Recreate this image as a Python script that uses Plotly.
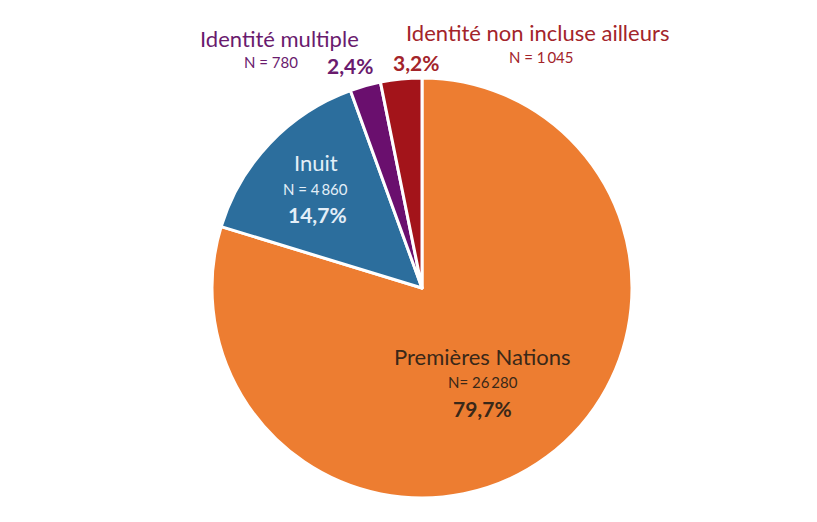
import plotly.graph_objects as go

# Population by Indigenous identity
categories = ["Premières Nations", "Inuit", "Identité multiple", "Identité non incluse ailleurs"]
counts = [26280, 4860, 780, 1045]
n_prefix = ["N= ", "N = ", "N = ", "N = "]

slice_colors = ["#ED7D31", "#2C6E9D", "#6A0F6E", "#A3141A"]

FONT = "Lato, Calibri, Carlito, sans-serif"
W, H = 817, 522

total = sum(counts)
shares = [c / total * 100 for c in counts]


def fmt_n(v):
    return f"{v:,}".replace(",", "\u2009")


def fmt_pct(p):
    return f"{p:.1f}".replace(".", ",") + "%"


fig = go.Figure(
    go.Pie(
        labels=categories,
        values=counts,
        sort=False,
        direction="clockwise",
        rotation=0,
        marker=dict(colors=slice_colors, line=dict(color="white", width=3)),
        textinfo="none",
        hoverinfo="label+value+percent",
        showlegend=False,
        domain=dict(x=[(422 - 210) / W, (422 + 210) / W], y=[1 - 498 / H, 1 - 78 / H]),
    )
)


def px(x, y):
    return x / W, 1 - y / H


# label layout: (name pos, N pos, pct pos, text color)
label_specs = [
    ((483, 356), (483, 382), (483, 408), "#3A2818"),
    ((316, 163), (315, 189), (317, 215), "#E3EEF8"),
    ((279, 39), (271, 62), (350, 66), "#6A1B6E"),
    ((537, 33), (541, 57), (416, 62), "#A3242A"),
]

annotations = []
for i, (npos, cpos, ppos, col) in enumerate(label_specs):
    for pos, text, size in [
        (npos, categories[i], 22),
        (cpos, n_prefix[i] + fmt_n(counts[i]), 15),
        (ppos, f"<b>{fmt_pct(shares[i])}</b>", 21),
    ]:
        x, y = px(*pos)
        annotations.append(
            dict(
                x=x, y=y, xref="paper", yref="paper", text=text, showarrow=False,
                xanchor="center", yanchor="middle", borderpad=0,
                font=dict(family=FONT, size=size, color=col),
            )
        )

fig.update_layout(
    width=W,
    height=H,
    margin=dict(l=0, r=0, t=0, b=0),
    paper_bgcolor="white",
    plot_bgcolor="white",
    annotations=annotations,
)

fig.write_html("out.html")
